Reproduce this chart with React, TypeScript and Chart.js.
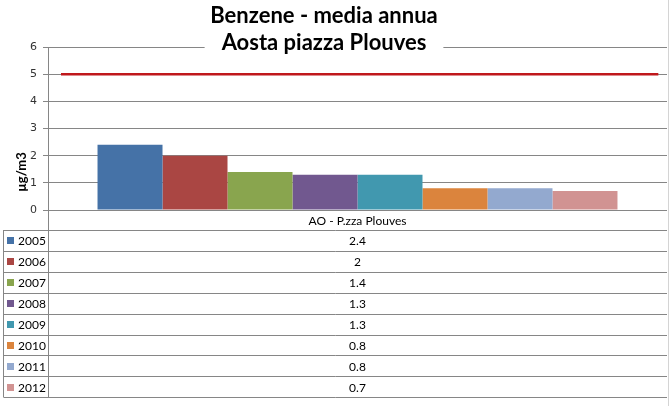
import React, { useEffect, useRef } from "react";
import { Chart, registerables } from "chart.js";

Chart.register(...registerables);

const titleLines = ["Benzene - media annua", "Aosta piazza Plouves"];
const yAxisTitle = "µg/m3";
const categories = ["AO - P.zza Plouves"];
const years = ["2005", "2006", "2007", "2008", "2009", "2010", "2011", "2012"];
const values = [2.4, 2, 1.4, 1.3, 1.3, 0.8, 0.8, 0.7];
const limitValue = 5;
const yMin = 0;
const yMax = 6;
const yStep = 1;

const colors = [
  "#4572A7",
  "#AA4643",
  "#89A54E",
  "#71588F",
  "#4198AF",
  "#DB843D",
  "#93A9CF",
  "#D19392",
];

const GRID = "#868686";
const FONT = "Lato, 'Open Sans', sans-serif";

const overlayPlugin = {
  id: "overlay",
  afterDatasetsDraw(chart: any) {
    const ctx = chart.ctx as CanvasRenderingContext2D;
    const { left, right } = chart.chartArea;
    const y = chart.scales.y;
    const w = right - left;
    const ly = y.getPixelForValue(limitValue);
    ctx.save();
    ctx.strokeStyle = "#C0181C";
    ctx.lineWidth = 2.5;
    ctx.beginPath();
    ctx.moveTo(left + w * 0.021, ly);
    ctx.lineTo(right - w * 0.014, ly);
    ctx.stroke();
    ctx.restore();
  },
  afterDraw(chart: any) {
    const ctx = chart.ctx as CanvasRenderingContext2D;
    const { left, right, top, bottom } = chart.chartArea;
    const W = chart.width;

    // titles
    ctx.save();
    const cx = W / 2 - 11;
    ctx.font = `bold 22px ${FONT}`;
    ctx.textAlign = "center";
    ctx.textBaseline = "alphabetic";
    const t2w = ctx.measureText(titleLines[1]).width;
    ctx.fillStyle = "#ffffff";
    ctx.fillRect(cx - t2w / 2 - 17, top - 4, t2w + 34, 8);
    ctx.fillStyle = "#000000";
    ctx.fillText(titleLines[0], cx, 23);
    ctx.fillText(titleLines[1], cx, 50);
    ctx.restore();

    // y axis title
    ctx.save();
    ctx.translate(22, 172);
    ctx.rotate(-Math.PI / 2);
    ctx.font = `bold 13px ${FONT}`;
    ctx.textAlign = "center";
    ctx.textBaseline = "middle";
    ctx.fillStyle = "#000";
    ctx.fillText(yAxisTitle, 0, 0);
    ctx.restore();

    // data table
    const catRowH = 20;
    const rowH = 20.9;
    const tableTop = bottom + catRowH;
    const tableLeft = 3.5;
    const n = chart.data.datasets.length;
    const tableBottom = tableTop + n * rowH;
    const colCenter = (left + right) / 2;

    ctx.save();
    ctx.strokeStyle = GRID;
    ctx.lineWidth = 1;
    ctx.beginPath();
    ctx.moveTo(Math.round(left) + 0.5, bottom);
    ctx.lineTo(Math.round(left) + 0.5, tableBottom);
    ctx.moveTo(tableLeft, tableTop);
    ctx.lineTo(tableLeft, tableBottom);
    for (let i = 0; i <= n; i++) {
      const yy = Math.round(tableTop + i * rowH) + 0.5;
      ctx.moveTo(tableLeft, yy);
      ctx.lineTo(right, yy);
    }
    ctx.stroke();

    ctx.strokeStyle = "#D4D4D4";
    ctx.beginPath();
    ctx.moveTo(W - 1.5, 0);
    ctx.lineTo(W - 1.5, chart.height);
    ctx.stroke();

    ctx.font = `12px ${FONT}`;
    ctx.textBaseline = "middle";
    ctx.fillStyle = "#000";
    ctx.textAlign = "center";
    ctx.fillText(chart.data.labels[0], colCenter, bottom + catRowH / 2 + 1);

    chart.data.datasets.forEach((ds: any, i: number) => {
      const cy = tableTop + i * rowH + rowH / 2 + 1;
      ctx.fillStyle = ds.backgroundColor;
      ctx.fillRect(7, Math.round(cy - 4), 7, 7);
      ctx.fillStyle = "#000";
      ctx.textAlign = "left";
      ctx.fillText(ds.label, 18, cy);
      ctx.textAlign = "center";
      ctx.fillText(String(ds.data[0]), colCenter, cy);
    });
    ctx.restore();
  },
};

export default function App() {
  const ref = useRef<HTMLCanvasElement | null>(null);

  useEffect(() => {
    document.body.style.margin = "0";
    const canvas = ref.current!;
    const chart = new Chart(canvas, {
      type: "bar",
      data: {
        labels: categories,
        datasets: years.map((yr, i) => ({
          label: yr,
          data: [values[i]],
          backgroundColor: colors[i],
          borderWidth: 0,
          barPercentage: 1,
          categoryPercentage: 0.84,
        })),
      },
      options: {
        responsive: false,
        animation: false,
        devicePixelRatio: 1,
        layout: { padding: { left: 0, right: 3, top: 47, bottom: 196 } },
        plugins: {
          legend: { display: false },
          tooltip: { enabled: false },
          title: { display: false },
        },
        scales: {
          x: { display: false },
          y: {
            min: yMin,
            max: yMax,
            ticks: {
              stepSize: yStep,
              padding: 6,
              color: "#333",
              font: { family: "'DejaVu Sans', sans-serif", size: 11 },
            },
            grid: { color: GRID, tickLength: 5, lineWidth: 1 },
            border: { display: true, color: GRID },
            afterFit(scale: any) {
              scale.width = 48;
            },
          },
        },
      },
      plugins: [overlayPlugin],
    });
    return () => chart.destroy();
  }, []);

  return (
    <div style={{ width: 670, height: 406, background: "#fff" }}>
      <canvas ref={ref} width={670} height={406} style={{ display: "block" }} />
    </div>
  );
}
